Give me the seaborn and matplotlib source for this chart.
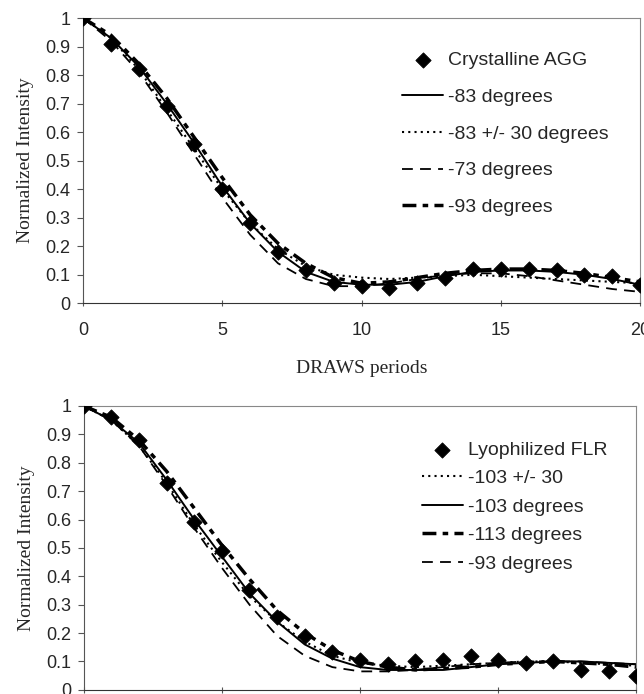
import numpy as np
import pandas as pd
import matplotlib
matplotlib.use("Agg")
import matplotlib.pyplot as plt
import seaborn as sns

periods = list(range(21))

# top panel: crystalline AGG
agg_data = [1.0, 0.91, 0.82, 0.69, 0.56, 0.40, 0.28, 0.18, 0.115, 0.07, 0.06,
            0.055, 0.07, 0.09, 0.12, 0.12, 0.12, 0.115, 0.10, 0.095, 0.065]
agg_m83 = [1.0, 0.93, 0.83, 0.70, 0.56, 0.41, 0.28, 0.18, 0.11, 0.075, 0.065,
           0.065, 0.075, 0.095, 0.11, 0.115, 0.115, 0.11, 0.10, 0.085, 0.065]
agg_m83_30 = [1.0, 0.93, 0.82, 0.68, 0.54, 0.40, 0.28, 0.19, 0.13, 0.10, 0.09,
              0.085, 0.09, 0.095, 0.10, 0.095, 0.09, 0.085, 0.08, 0.075, 0.07]
agg_m73 = [1.0, 0.92, 0.81, 0.67, 0.52, 0.37, 0.24, 0.14, 0.085, 0.06, 0.06,
           0.07, 0.085, 0.10, 0.105, 0.105, 0.095, 0.08, 0.065, 0.05, 0.04]
agg_m93 = [1.0, 0.94, 0.84, 0.72, 0.58, 0.44, 0.31, 0.21, 0.14, 0.09, 0.07,
           0.075, 0.09, 0.105, 0.115, 0.12, 0.12, 0.115, 0.105, 0.09, 0.075]

# bottom panel: lyophilized FLR
flr_data = [1.0, 0.96, 0.88, 0.73, 0.59, 0.49, 0.35, 0.255, 0.19, 0.135, 0.105,
            0.09, 0.10, 0.105, 0.12, 0.105, 0.095, 0.10, 0.07, 0.065, 0.05]
flr_m103_30 = [1.0, 0.95, 0.86, 0.73, 0.58, 0.45, 0.33, 0.24, 0.17, 0.12, 0.095,
               0.085, 0.08, 0.085, 0.09, 0.095, 0.10, 0.10, 0.095, 0.09, 0.085]
flr_m103 = [1.0, 0.95, 0.87, 0.74, 0.60, 0.47, 0.34, 0.24, 0.16, 0.11, 0.08,
            0.07, 0.07, 0.07, 0.08, 0.09, 0.095, 0.10, 0.10, 0.095, 0.09]
flr_m113 = [1.0, 0.96, 0.88, 0.77, 0.64, 0.51, 0.39, 0.28, 0.20, 0.14, 0.10,
            0.08, 0.07, 0.075, 0.08, 0.09, 0.095, 0.10, 0.095, 0.09, 0.08]
flr_m93 = [1.0, 0.95, 0.86, 0.72, 0.57, 0.43, 0.30, 0.19, 0.12, 0.08, 0.065,
           0.065, 0.07, 0.08, 0.09, 0.095, 0.10, 0.10, 0.10, 0.095, 0.09]

ytick_labels = ["0", "0.1", "0.2", "0.3", "0.4", "0.5", "0.6", "0.7", "0.8", "0.9", "1"]

sns.set_style("ticks")
plt.rcParams["font.family"] = ["Liberation Sans", "DejaVu Sans"]

SOLID = dict(lw=1.4, linestyle="-")
DOTTED = dict(lw=1.5, linestyle=(0, (1, 2)))
DASHED = dict(lw=1.3, linestyle=(0, (6, 4)))
HEAVY = dict(lw=2.5, linestyle=(0, (4, 1.8, 1.6, 1.8)))


# Draws the data points and model curves of one panel
def draw_panel(ax, data, data_label, curves):
    for label, yvals, style in curves:
        sns.lineplot(x=periods, y=yvals, ax=ax, color="black", label=label, **style)
    sns.scatterplot(x=periods, y=data, ax=ax, marker="D", s=60, color="black",
                    edgecolor="black", label=data_label, zorder=5)
    ax.set_xlim(0, 20)
    ax.set_ylim(0, 1)
    ax.set_xticks([0, 5, 10, 15, 20])
    ax.set_yticks(np.arange(0, 1.01, 0.1))
    ax.set_yticklabels(ytick_labels)
    ax.tick_params(axis="y", labelsize=13, length=4, width=0.8, color="#555", pad=5)
    ax.tick_params(axis="x", labelsize=13, length=5, width=0.8, color="#555",
                   direction="inout", pad=11)
    for side in ["top", "right", "left"]:
        ax.spines[side].set_visible(True)
        ax.spines[side].set_color("#888")
        ax.spines[side].set_linewidth(0.8)
    ax.spines["left"].set_color("#555")
    ax.spines["bottom"].set_color("#333")
    ax.set_ylabel("Normalized Intensity", family="Liberation Serif", fontsize=14, labelpad=8)


# Puts the legend with the data entry first
def add_legend(ax, anchor, spacing):
    h, l = ax.get_legend_handles_labels()
    order = [4, 0, 1, 2, 3]
    ax.legend([h[i] for i in order], [l[i] for i in order], loc="upper left",
              bbox_to_anchor=anchor, frameon=False, fontsize=14,
              labelspacing=spacing, handlelength=2.1, handletextpad=0.25,
              borderpad=0, borderaxespad=0)


fig = plt.figure(figsize=(6.44, 6.94), dpi=100)
ax1 = fig.add_axes([0.129, 0.563, 0.865, 0.411])
ax2 = fig.add_axes([0.130, 0.006, 0.858, 0.409])

draw_panel(ax1, agg_data, "Crystalline AGG", [
    ("-83 degrees", agg_m83, SOLID),
    ("-83 +/- 30 degrees", agg_m83_30, DOTTED),
    ("-73 degrees", agg_m73, DASHED),
    ("-93 degrees", agg_m93, HEAVY),
])
ax1.set_xlabel("DRAWS periods", family="Liberation Serif", fontsize=14, labelpad=15)
add_legend(ax1, (0.573, 0.882), 0.98)

draw_panel(ax2, flr_data, "Lyophilized FLR", [
    ("-103 +/- 30", flr_m103_30, DOTTED),
    ("-103 degrees", flr_m103, SOLID),
    ("-113 degrees", flr_m113, HEAVY),
    ("-93 degrees", flr_m93, DASHED),
])
ax2.set_xlabel("")
add_legend(ax2, (0.612, 0.876), 0.56)

fig.savefig("out.png", dpi=100)
